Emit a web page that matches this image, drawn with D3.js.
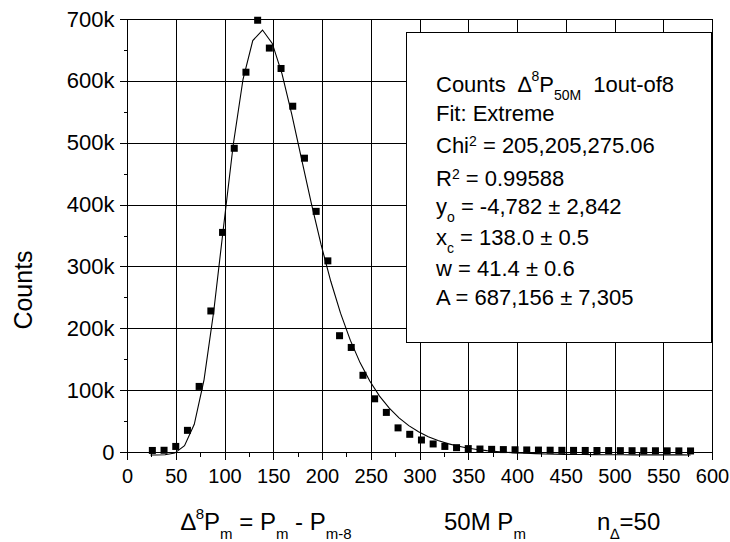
<!DOCTYPE html>
<html><head><meta charset="utf-8">
<script src="https://cdn.jsdelivr.net/npm/d3@7/dist/d3.min.js"></script>
<style>
body{margin:0;background:#fff}
svg{display:block}
text{font-family:"Liberation Sans",Arial,sans-serif;fill:#000;white-space:pre}
</style>
</head><body>
<svg id="chart" width="730" height="542"></svg>
<script>
// ---- data ----
const binCenters = [26,38,50,62,74,86,98,110,122,134,146,158,170,182,194,206,218,230,242,254,266,278,290,302,314,326,338,350,362,374,386,398,410,422,434,446,458,470,482,494,506,518,530,542,554,566,578];
const counts = [2500,2800,9000,35000,106000,228000,355000,491000,614000,698000,653000,620000,559000,475000,389000,309000,188000,169000,124000,86000,64000,39000,28600,19400,13000,9000,7000,5500,4800,4300,3900,3600,3300,3100,2900,2700,2600,2500,2400,2300,2200,2100,2000,2000,1900,1800,1700];
// fitted "Extreme" curve as drawn (vertices)
const fitX = [24,29,39,49,59,69,79,89,99,109,119,129,139,149,159,169,179,189,199,209,219,229,239,249,259,269,279,289,299,309,319,329,339,349,359,369,379,389,399,409,419,429,439,449,459,469,479,489,499,509,519,529,539,549,559,569,578];
const fitY = [-4778,-4758,-4416,-1779,10095,44852,116638,227978,363739,497058,602601,665072,682175,660502,611192,545712,473786,402260,335587,276011,224453,180791,144482,114673,90438,70860,55173,42639,32675,24759,18506,13558,9655,6577,4151,2241,736,-446,-1374,-2102,-2677,-3128,-3483,-3762,-3980,-4152,-4287,-4393,-4477,-4542,-4594,-4634,-4666,-4691,-4710,-4726,-4736];
const xTicks = [0,50,100,150,200,250,300,350,400,450,500,550,600];
const xMinorTicks = [25,75,125,175,225,275,325,375,425,475,525,575];
const yTicks = [0,100000,200000,300000,400000,500000,600000,700000];
const yTickLabels = ["0","100k","200k","300k","400k","500k","600k","700k"];
const yMinorTicks = [50000,150000,250000,350000,450000,550000,650000];
const yTitle = "Counts";
// legend lines: [text, kind]  kind: "" normal, "sup", "sub"
const legendLine1 = [["Counts  ",""],["\u2206",""],["8","sup"],["P",""],["50M","sub"],["  1out-of8",""]];
const legendLine2 = [["Fit: Extreme",""]];
const legendLine3 = [["Chi",""],["2","sup"],[" = 205,205,275.06",""]];
const legendLine4 = [["R",""],["2","sup"],[" = 0.99588",""]];
const legendLine5 = [["y",""],["o","sub"],[" = -4,782 \u00b1 2,842",""]];
const legendLine6 = [["x",""],["c","sub"],[" = 138.0 \u00b1 0.5",""]];
const legendLine7 = [["w = 41.4 \u00b1 0.6",""]];
const legendLine8 = [["A = 687,156 \u00b1 7,305",""]];
const xTitle1 = [["\u2206",""],["8","sup"],["P",""],["m","sub"],[" = P",""],["m","sub"],[" - P",""],["m-8","sub"]];
const xTitle2 = [["50M P",""],["m","sub"]];
const xTitle3 = [["n",""],["\u2206","sub"],["=50",""]];

// ---- drawing ----
const svg = d3.select("#chart");
const L = 127, R = 712, T = 19, B = 452;
const x = d3.scaleLinear().domain([0,600]).range([L,R]);
const y = d3.scaleLinear().domain([0,700000]).range([B,T]);

// grid
const grid = svg.append("g").attr("stroke","#000").attr("stroke-width",1).attr("shape-rendering","crispEdges");
grid.selectAll(".gv").data(xTicks.slice(1)).join("line")
  .attr("x1",d=>Math.round(x(d))+0.5).attr("x2",d=>Math.round(x(d))+0.5)
  .attr("y1",T).attr("y2",B);
grid.selectAll(".gh").data(yTicks.slice(1)).join("line")
  .attr("x1",L).attr("x2",R)
  .attr("y1",d=>Math.round(y(d))+0.5).attr("y2",d=>Math.round(y(d))+0.5);

// legend box
const box = {x0:406, y0:32, x1:711, y1:342};
svg.append("rect").attr("x",box.x0+0.5).attr("y",box.y0+0.5)
  .attr("width",box.x1-box.x0).attr("height",box.y1-box.y0)
  .attr("fill","#fff").attr("stroke","#000").attr("stroke-width",1);

// axes
function styleAxis(g){ g.select(".domain").remove(); g.selectAll("line").attr("stroke","#000").attr("shape-rendering","crispEdges"); }
const xAxis = svg.append("g").attr("transform",`translate(0,${B+0.5})`)
  .call(d3.axisBottom(x).tickValues(xTicks).tickSize(7).tickPadding(9).tickFormat(d3.format("d")));
styleAxis(xAxis);
xAxis.selectAll("text").attr("font-size",20).attr("font-family","Liberation Sans, Arial, sans-serif").attr("fill","#000");
const xMinor = svg.append("g").attr("transform",`translate(0,${B+0.5})`)
  .call(d3.axisBottom(x).tickValues(xMinorTicks).tickSize(4).tickFormat(""));
styleAxis(xMinor);

const yAxis = svg.append("g").attr("transform",`translate(${L+0.5},0)`)
  .call(d3.axisLeft(y).tickValues(yTicks).tickSize(8).tickPadding(5).tickFormat((d,i)=>yTickLabels[i]));
styleAxis(yAxis);
yAxis.selectAll("text").attr("font-size",22).attr("font-family","Liberation Sans, Arial, sans-serif").attr("fill","#000");
const yMinor = svg.append("g").attr("transform",`translate(${L+0.5},0)`)
  .call(d3.axisLeft(y).tickValues(yMinorTicks).tickSize(4).tickFormat(""));
styleAxis(yMinor);

// frame
svg.append("rect").attr("x",L+0.5).attr("y",T+0.5).attr("width",R-L).attr("height",B-T)
  .attr("fill","none").attr("stroke","#000").attr("stroke-width",1).attr("shape-rendering","crispEdges");

// fit curve
const line = d3.line().x(d=>x(d[0])).y(d=>y(d[1]));
svg.append("path").datum(fitX.map((v,i)=>[v,fitY[i]]))
  .attr("d",line).attr("fill","none").attr("stroke","#000").attr("stroke-width",1.1);

// data markers
const ms = 7;
svg.append("g").selectAll("rect").data(binCenters.map((v,i)=>[v,counts[i]])).join("rect")
  .attr("x",d=>x(d[0])-ms/2).attr("y",d=>y(d[1])-ms/2)
  .attr("width",ms).attr("height",ms).attr("fill","#000");

// rich text helper
function rich(parent, segs, x0, y0, size, subSize, supDy, subDy){
  const t = parent.append("text").attr("x",x0).attr("y",y0).attr("font-size",size);
  let shift = 0;
  segs.forEach(([s,k])=>{
    const ts = t.append("tspan").text(s);
    let target = k==="sup"? supDy : k==="sub"? subDy : 0;
    ts.attr("dy", target-shift); shift = target;
    if(k) ts.attr("font-size",subSize);
  });
  return t;
}

// legend text
const legendLines = [legendLine1,legendLine2,legendLine3,legendLine4,legendLine5,legendLine6,legendLine7,legendLine8];
const baselines = [92,121,153,186,214,245,276,305];
const lg = svg.append("g");
legendLines.forEach((ln,i)=>{
  const sup = i===0 ? -11 : -7;
  rich(lg, ln, 436, baselines[i], 22, 14, sup, 8);
});

// axis titles
svg.append("text").attr("transform","translate(32,290) rotate(-90)")
  .attr("text-anchor","middle").attr("font-size",25).text(yTitle);
const xt = svg.append("g");
rich(xt, xTitle1, 181, 530, 24, 15, -11, 9);
rich(xt, xTitle2, 444, 530, 24, 15, -11, 9);
rich(xt, xTitle3, 597, 530, 24, 15, -11, 9);
</script>
</body></html>
